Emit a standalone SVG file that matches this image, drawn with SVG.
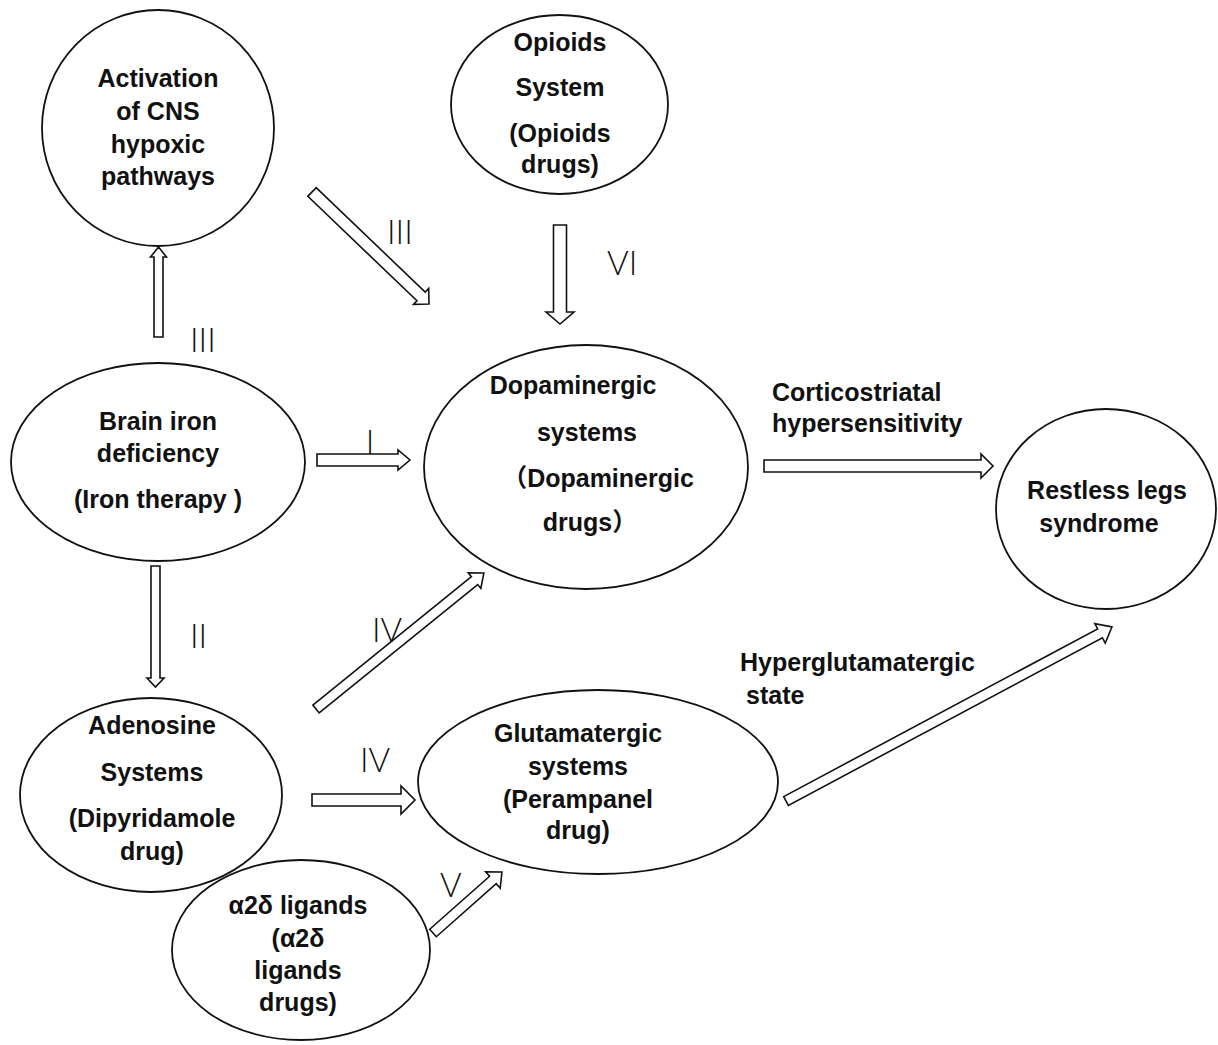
<svg xmlns="http://www.w3.org/2000/svg" width="1218" height="1045" viewBox="0 0 1218 1045">
<style>
.node ellipse{fill:#fff;stroke:#111;stroke-width:1.8}
.t{font-family:"Liberation Sans","Noto Sans CJK SC",sans-serif;font-weight:bold;font-size:25px;fill:#111;text-anchor:middle}
.lbl{font-family:"Liberation Sans","Noto Sans CJK SC",sans-serif;font-weight:bold;font-size:25px;fill:#111}
.num{font-family:"Lato","Liberation Sans",sans-serif;font-weight:300;font-size:33px;fill:#111}
.arr{fill:#fff;stroke:#111;stroke-width:1.6;stroke-linejoin:miter}
</style>
<rect width="1218" height="1045" fill="#fff"/>
<g id="connectors">
  <!-- Brain iron -> Activation (III) -->
  <polygon class="arr" transform="translate(158.5,337) rotate(-90)" points="0,-4.5 80,-4.5 80,-8 90,0 80,8 80,4.5 0,4.5"/>
  <!-- Activation -> Dopaminergic (III) -->
  <polygon class="arr" transform="translate(312,192) rotate(43.75)" points="0,-6 151,-6 151,-11 162,0 151,11 151,6 0,6"/>
  <!-- Opioids -> Dopaminergic (VI) -->
  <polygon class="arr" transform="translate(560,225) rotate(90)" points="0,-6.5 87,-6.5 87,-14 99,0 87,14 87,6.5 0,6.5"/>
  <!-- Brain iron -> Dopaminergic (I) -->
  <polygon class="arr" transform="translate(317,460)" points="0,-6 81,-6 81,-10 93,0 81,10 81,6 0,6"/>
  <!-- Brain iron -> Adenosine (II) -->
  <polygon class="arr" transform="translate(155.5,566) rotate(90)" points="0,-4.5 112,-4.5 112,-8.5 121,0 112,8.5 112,4.5 0,4.5"/>
  <!-- Adenosine -> Dopaminergic (IV) -->
  <polygon class="arr" transform="translate(316,709) rotate(-39)" points="0,-5 204,-5 204,-10 216,0 204,10 204,5 0,5"/>
  <!-- Adenosine -> Glutamatergic (IV) -->
  <polygon class="arr" transform="translate(312,800)" points="0,-6 89,-6 89,-14 103,0 89,14 89,6 0,6"/>
  <!-- alpha2delta -> Glutamatergic (V) -->
  <polygon class="arr" transform="translate(433,933) rotate(-41.5)" points="0,-5 80,-5 80,-11 92,0 80,11 80,5 0,5"/>
  <!-- Dopaminergic -> Restless legs -->
  <polygon class="arr" transform="translate(764,466)" points="0,-6 217,-6 217,-12 229,0 217,12 217,6 0,6"/>
  <!-- Glutamatergic -> Restless legs -->
  <polygon class="arr" transform="translate(786,801) rotate(-28.1)" points="0,-5 356,-5 356,-11 369.5,0 356,11 356,5 0,5"/>
  <text class="num" x="190" y="352">III</text>
  <text class="num" x="387" y="244">III</text>
  <text class="num" x="607" y="275">VI</text>
  <text class="num" x="370" y="454" text-anchor="middle">I</text>
  <text class="num" x="190" y="648">II</text>
  <text class="num" x="372" y="642">IV</text>
  <text class="num" x="360" y="772">IV</text>
  <text class="num" x="440" y="897">V</text>
  <text class="lbl" x="772" y="401">Corticostriatal</text>
  <text class="lbl" x="772" y="432">hypersensitivity</text>
  <text class="lbl" x="740" y="671">Hyperglutamatergic</text>
  <text class="lbl" x="746" y="704">state</text>
</g>
<g id="node-activation" class="node">
  <ellipse cx="158" cy="128" rx="116" ry="118"/>
  <text class="t" x="158" y="87">Activation</text>
  <text class="t" x="158" y="120">of CNS</text>
  <text class="t" x="158" y="153">hypoxic</text>
  <text class="t" x="158" y="185">pathways</text>
</g>
<g id="node-opioids" class="node">
  <ellipse cx="559.5" cy="104.5" rx="108.5" ry="89.5"/>
  <text class="t" x="560" y="51">Opioids</text>
  <text class="t" x="560" y="96">System</text>
  <text class="t" x="560" y="142">(Opioids</text>
  <text class="t" x="560" y="173">drugs)</text>
</g>
<g id="node-iron" class="node">
  <ellipse cx="158" cy="462" rx="147" ry="99"/>
  <text class="t" x="158" y="430">Brain iron</text>
  <text class="t" x="158" y="462">deficiency</text>
  <text class="t" x="158" y="508">(Iron therapy )</text>
</g>
<g id="node-dopaminergic" class="node">
  <ellipse cx="586" cy="467" rx="162" ry="122"/>
  <text class="t" x="573" y="394">Dopaminergic</text>
  <text class="t" x="587" y="441">systems</text>
  <text class="t" x="598" y="487">（Dopaminergic</text>
  <text class="t" x="590" y="531">drugs）</text>
</g>
<g id="node-restless" class="node">
  <ellipse cx="1106" cy="509" rx="110" ry="100"/>
  <text class="t" x="1107" y="499">Restless legs</text>
  <text class="t" x="1099" y="532">syndrome</text>
</g>
<g id="node-adenosine" class="node">
  <ellipse cx="151" cy="795" rx="131" ry="97"/>
  <text class="t" x="152" y="734">Adenosine</text>
  <text class="t" x="152" y="781">Systems</text>
  <text class="t" x="152" y="827">(Dipyridamole</text>
  <text class="t" x="152" y="860">drug)</text>
</g>
<g id="node-glutamatergic" class="node">
  <ellipse cx="598" cy="782" rx="180" ry="92"/>
  <text class="t" x="578" y="742">Glutamatergic</text>
  <text class="t" x="578" y="775">systems</text>
  <text class="t" x="578" y="808">(Perampanel</text>
  <text class="t" x="578" y="839">drug)</text>
</g>
<g id="node-a2d" class="node">
  <ellipse cx="301" cy="950" rx="129" ry="90"/>
  <text class="t" x="298" y="914">α2δ ligands</text>
  <text class="t" x="298" y="947">(α2δ</text>
  <text class="t" x="298" y="979">ligands</text>
  <text class="t" x="298" y="1011">drugs)</text>
</g>
</svg>
